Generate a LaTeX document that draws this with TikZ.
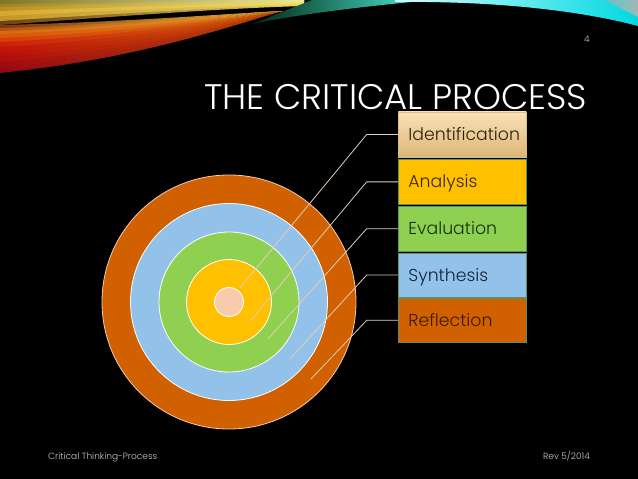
\documentclass[tikz,border=0pt]{standalone}
\usepackage{fontspec}
\setmainfont{Poppins}
\newfontfamily\thinfont{Poppins Light}
\usetikzlibrary{matrix}
\definecolor{rustc}{HTML}{D06000}
\definecolor{skyc}{HTML}{92C2EA}
\definecolor{leafc}{HTML}{90D050}
\definecolor{goldc}{HTML}{FFC000}
\definecolor{peachc}{HTML}{F8CBAD}
\definecolor{leaderc}{HTML}{E2CDBA}
\definecolor{edgec}{HTML}{5F9068}
\definecolor{tanc}{HTML}{D8BE8C}
\definecolor{sandtop}{HTML}{FAE2B4}
\definecolor{sandbot}{HTML}{DCB678}
\definecolor{inka}{HTML}{2A2010}
\definecolor{inkb}{HTML}{3A2A00}
\definecolor{inkc}{HTML}{14320E}
\definecolor{inkd}{HTML}{16233A}
\definecolor{inke}{HTML}{3F1A00}
\definecolor{greena}{HTML}{002810}
\definecolor{greenb}{HTML}{0A9048}
\definecolor{greenc}{HTML}{50F0E0}
\definecolor{cyana}{HTML}{D0FFFF}
\definecolor{cyanb}{HTML}{00D8E0}
\definecolor{graya}{HTML}{60C4C4}
\definecolor{grayb}{HTML}{A0B8B8}
\begin{document}
\begin{tikzpicture}
  [x=1pt,y=-1pt,
   ring/.style={circle,draw=white,line width=0.8pt,inner sep=0pt},
   stepcell/.style={rectangle,draw=#1,line width=0.5pt,minimum width=128pt,
     text width=108pt,inner xsep=10pt,inner ysep=0pt,align=left,
     text height=13pt,text depth=1pt,font=\thinfont\fontsize{17.3}{20}\selectfont},
   leader/.style={draw=leaderc,line width=0.8pt},
   small/.style={text=black!20,inner sep=0pt,font=\thinfont\fontsize{9}{10}\selectfont}]
  \useasboundingbox (0,0) rectangle (638,479);
  \fill[black] (0,0) rectangle (638,479);
  % banner, left part
  \foreach \ya/\yb/\cl/\cr in {70/73/8C0814/B84008,66/71/960A14/BC4408,61/67/A00A10/C04808,
    56/62/B00C0C/C85008,51/57/B81008/CC5808,46/52/BE1408/D06010,41/47/CC2008/D46C10,
    37/42/D83C08/D87818,33/38/D85808/DC8820,30/34/D86A10/E09828,27/31/B85010/E0A838,25/28/7A3A10/E0B040}
  {
    \definecolor{cla}{HTML}{\cl}
    \definecolor{cra}{HTML}{\cr}
    \shade[left color=cla,right color=cra]
      (0,\ya) .. controls (130,{22+(\ya-25)*0.79}) and (220,{14+(\ya-25)*0.33}) .. (282,11)
      .. controls (220,{14+(\yb-25)*0.33}) and (130,{22+(\yb-25)*0.79}) .. (0,\yb) -- cycle;
  }
  \foreach \ya/\yb/\cl/\cr in {20/25/704010/E8D060,15/21/C09828/ECD868,10/16/D8A830/F0E070,
    6/11/B89020/F0E480,3/7/A08420/F0E890,0/4/807828/E8E8A0}
  {
    \definecolor{cla}{HTML}{\cl}
    \definecolor{cra}{HTML}{\cr}
    \shade[left color=cla,right color=cra]
      (0,\ya) .. controls (130,{\ya*0.62}) and (220,{\ya*0.34}) .. (304,{\ya*0.05})
      -- (304,{\yb*0.24}) .. controls (220,{\yb*0.34}) and (130,{\yb*0.62}) .. (0,\yb) -- cycle;
  }
  % banner, right part
  \shade[left color=greena,middle color=greenb,right color=greenc]
    (252,24) -- (312,0) -- (432,0) .. controls (380,5) and (310,12) .. (252,24) -- cycle;
  \shade[left color=cyana,right color=cyanb]
    (395,2) .. controls (480,1) and (570,8) .. (638,26) -- (638,0) -- (395,0) -- cycle;
  \shade[left color=graya,right color=grayb] (604,0) -- (638,17) -- (638,0) -- cycle;
  % rings
  \node[ring,fill=rustc,draw=peachc,minimum size=254pt] (reflect) at (229,302) {};
  \node[ring,fill=skyc,minimum size=197pt] (synth) at (229,302) {};
  \node[ring,fill=leafc,minimum size=140pt] (evalu) at (229,302) {};
  \node[ring,fill=goldc,minimum size=85pt] (analy) at (229,302) {};
  \node[ring,fill=peachc,minimum size=29pt] (ident) at (229,302) {};
  % boxes
  \matrix[anchor=north west,inner sep=0pt] at (398,111.5)
  {
    \node[stepcell=tanc,top color=sandtop,bottom color=sandbot,text=inka,minimum height=45pt] (idbox) {Identification}; \\[1.9pt]
    \node[stepcell=edgec,fill=goldc,text=inkb,minimum height=45pt] (anbox) {Analysis}; \\[1.1pt]
    \node[stepcell=edgec,fill=leafc,text=inkc,minimum height=45.5pt] (evbox) {Evaluation}; \\[1.1pt]
    \node[stepcell=edgec,fill=skyc,text=inkd,minimum height=44pt] (sybox) {Synthesis}; \\[1.1pt]
    \node[stepcell=edgec,fill=rustc,text=inke,minimum height=43.3pt] (rebox) {Reflection}; \\
  };
  % leaders
  \coordinate (knee) at (366.7,0);
  \coordinate (pin1) at (240,288);
  \coordinate (pin2) at (250,321);
  \coordinate (pin3) at (268,339);
  \coordinate (pin4) at (290,359);
  \coordinate (pin5) at (311,379);
  \draw[leader] (pin1) -- (knee |- idbox.west) -- (idbox.west);
  \draw[leader] (pin2) -- (knee |- anbox.west) -- (anbox.west);
  \draw[leader] (pin3) -- (knee |- evbox.west) -- (evbox.west);
  \draw[leader] (pin4) -- (knee |- sybox.west) -- (sybox.west);
  \draw[leader] (pin5) -- (knee |- rebox.west) -- (rebox.west);
  % texts
  \node[anchor=base west,text=white,inner sep=0pt,font=\thinfont\fontsize{35.5}{40}\selectfont] (title) at (204,109) {THE CRITICAL PROCESS};
  \node[small] (page) at (587,39) {4};
  \node[small,anchor=base west] (foot) at (48,459) {Critical Thinking-Process};
  \node[small,anchor=base east] (rev) at (590,459) {Rev 5/2014};
\end{tikzpicture}
\end{document}
